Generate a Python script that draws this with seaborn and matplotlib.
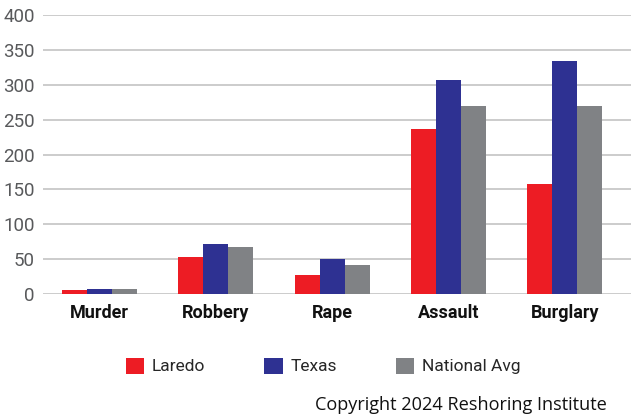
import matplotlib
matplotlib.use("Agg")
import matplotlib.pyplot as plt
import seaborn as sns
import pandas as pd
from matplotlib.patches import Patch

# Crime rates per 100,000 residents
categories = ["Murder", "Robbery", "Rape", "Assault", "Burglary"]
laredo = [6, 53, 27, 236, 158]
texas = [7, 71, 50, 307, 334]
national = [7, 67, 42, 269, 270]
series_names = ["Laredo", "Texas", "National Avg"]
y_ticks = [0, 50, 100, 150, 200, 250, 300, 350, 400]

colors = ["#ED1C24", "#2E3192", "#808285"]

rows = []
for name, vals in zip(series_names, [laredo, texas, national]):
    for cat, v in zip(categories, vals):
        rows.append({"Crime": cat, "Area": name, "Rate": v})
df = pd.DataFrame(rows)

sns.set_style("white")
plt.rcParams["font.family"] = ["Roboto", "DejaVu Sans"]

fig = plt.figure(figsize=(6.31, 4.19), dpi=100)
ax = fig.add_axes([43 / 631, 125 / 419, 588 / 631, 279 / 419])

sns.barplot(data=df, x="Crime", y="Rate", hue="Area", order=categories,
            hue_order=series_names, palette=colors, width=0.645, gap=0,
            saturation=1, linewidth=0, ax=ax, legend=False)

ax.set_ylim(0, 400)
ax.set_xlim(-0.486, 4.57)
ax.set_yticks(y_ticks)
ax.yaxis.grid(True, color="#c8c8c8", linewidth=1.3)
ax.set_axisbelow(True)
for s in ax.spines.values():
    s.set_visible(False)
ax.set_xlabel("")
ax.set_ylabel("")
ax.tick_params(axis="y", length=0, pad=6, labelsize=13.5, labelcolor="#58595b")
ax.tick_params(axis="x", length=0, pad=7)
for lab in ax.get_xticklabels():
    lab.set_fontsize(13)
    lab.set_fontweight("bold")
    lab.set_color("#111111")

handles = [Patch(facecolor=c, edgecolor="none") for c in colors]
fig.legend(handles, series_names, loc="center left",
           bbox_to_anchor=(126 / 631, 1 - 366 / 419), ncol=3, frameon=False,
           fontsize=12.5, handlelength=1.05, handleheight=1.05,
           handletextpad=0.45, columnspacing=3.4, borderaxespad=0,
           borderpad=0)

fig.text(607 / 631, 1 - 405 / 419, "Copyright 2024 Reshoring Institute",
         ha="right", va="center", fontsize=13.1, color="#111111",
         family=["Open Sans", "DejaVu Sans"])

fig.savefig("out.png", dpi=100)
